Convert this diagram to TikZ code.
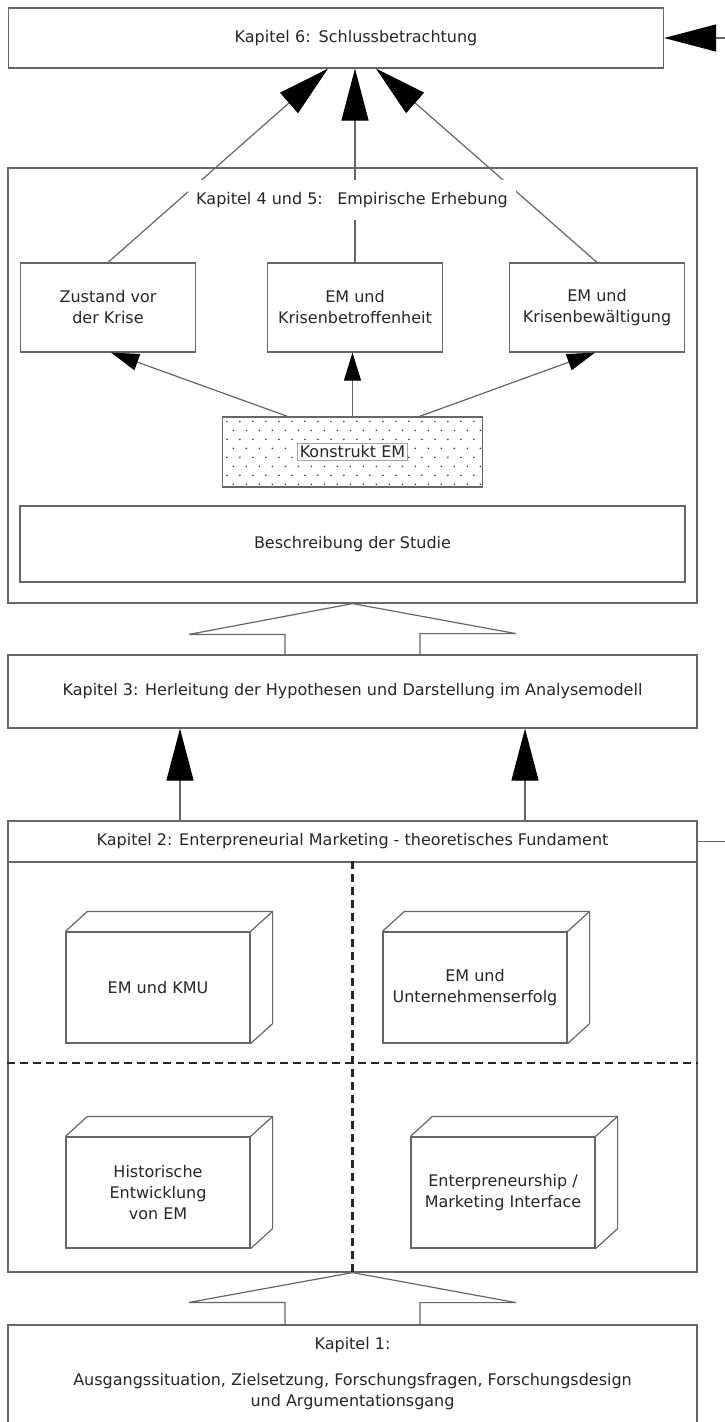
\documentclass[tikz,border=0pt]{standalone}
\usepackage{fontspec}
\setmainfont{DejaVu Sans}
\usetikzlibrary{arrows.meta, positioning}

\begin{document}
\begin{tikzpicture}[
    x = 1pt, y = -1pt,
    every node/.style = {font = \fontsize{16}{21}\selectfont, text = black!85},
    box/.style = {
      draw = black!60,
      line width = 1.2pt,
      rectangle,
      align = center,
      inner sep = 0pt,
    },
    line/.style = {draw = black!60, line width = 1.2pt},
    bigtip/.style = {line, -{Triangle[length = 52pt, width = 27pt, color = black]}},
    smalltip/.style = {line, -{Triangle[length = 28pt, width = 17pt, color = black]}},
    quarter/.style = {draw = black!85, line width = 2.4pt, dash pattern = on 8pt off 5pt},
    cube/.style = {box, minimum width = 184pt, minimum height = 111pt},
  ]
  \useasboundingbox (0,0) rectangle (725,1422);

  % Kapitel 6
  \node [box, minimum width = 655pt, minimum height = 60pt, text width = 655pt] (kap6) at (336,38) {
    \hspace*{40pt}Kapitel 6: Schlussbetrachtung};

  % Kapitel 4 und 5
  \node [box, minimum width = 689pt, minimum height = 435pt] (kap45) at (352.5,385.5) {};
  \node [box, minimum width = 175pt, minimum height = 89pt] (zustand)   at (108,307.5) {Zustand vor\\der Krise};
  \node [box, minimum width = 175pt, minimum height = 89pt] (betroffen) at (355,307.5) {EM und\\Krisenbetroffenheit};
  \node [box, minimum width = 175pt, minimum height = 89pt] (bewaelt)   at (597,307.5) {EM und\\Krisenbewältigung};

  \draw [bigtip] (zustand.north) to ([xshift = -8pt]kap6.south);
  \draw [bigtip] (betroffen.north) to (betroffen.north |- kap6.south);
  \draw [bigtip] (bewaelt.north) to ([xshift = 40pt]kap6.south);

  \node [fill = white, inner xsep = 8pt, inner ysep = 12pt] (titel45) at (352,200) {
    Kapitel 4 und 5:\hspace{0.9em}Empirische Erhebung};

  \node [box, minimum width = 260pt, minimum height = 70pt] (konstrukt) at (352.5,452) {};
  \begin{scope}
    \clip (konstrukt.north west) rectangle (konstrukt.south east);
    \foreach \j in {0,...,7} {
      \foreach \i in {0,...,20} {
        \fill [black!80] ([shift = {({5 + 13*\i + 6.5*mod(\j,2)}, {5 + 9*\j})}]konstrukt.north west) circle (0.9pt);
      }
    }
  \end{scope}
  \node [draw = black!35, fill = white, inner sep = 2pt, line width = 1pt] (konlabel) at (konstrukt) {Konstrukt EM};

  \draw [smalltip] ([xshift = -65pt]konstrukt.north) to ([xshift = 3pt]zustand.south);
  \draw [smalltip] (konstrukt.north) to (betroffen.south -| konstrukt.north);
  \draw [smalltip] ([xshift = 67pt]konstrukt.north) to ([xshift = -2pt]bewaelt.south);

  \node [box, minimum width = 665pt, minimum height = 76pt] (studie) at (352.5,544) {Beschreibung der Studie};

  % Kapitel 3
  \node [box, minimum width = 689pt, minimum height = 73pt] (kap3) at (352.5,691.5) {
    Kapitel 3: Herleitung der Hypothesen und Darstellung im Analysemodell};

  \draw [line] ([xshift = -67.5pt]kap3.north) -- ++(0,-20) -- ++(-96,0)
    -- (kap45.south) -- ++(163.5,30) -- ++(-96,0) -- ([xshift = 67.5pt]kap3.north);

  % Kapitel 2
  \node [box, minimum width = 689pt, minimum height = 41pt] (kap2) at (352.5,841.5) {
    Kapitel 2: Enterpreneurial Marketing - theoretisches Fundament};
  \node [box, minimum width = 689pt, minimum height = 410pt] (kap2rahmen) at (352.5,1067) {};

  \draw [bigtip] ([xshift = -172.5pt]kap2.north) to ([xshift = -172.5pt]kap3.south);
  \draw [bigtip] ([xshift = 172.5pt]kap2.north) to ([xshift = 172.5pt]kap3.south);

  \draw [quarter] (kap2rahmen.north) to (kap2rahmen.south);
  \draw [quarter] (kap2rahmen.west |- 0,1063) to (kap2rahmen.east |- 0,1063);

  \node [cube] (kmu)       at (158,987.5)  {EM und KMU};
  \node [cube] (erfolg)    at (475,987.5)  {EM und\\Unternehmenserfolg};
  \node [cube] (historie)  at (158,1192.5) {Historische\\Entwicklung\\von EM};
  \node [cube] (interface) at (503,1192.5) {Enterpreneurship /\\Marketing Interface};
  \foreach \b in {kmu, erfolg, historie, interface} {
    \draw [line] (\b.north west) -- ++(22,-20) -| ([shift = {(22,-20)}]\b.south east) -- (\b.south east);
    \draw [line] (\b.north east) -- ++(22,-20);
  }

  % Kapitel 1
  \node [box, minimum width = 689pt, minimum height = 115pt] (kap1) at (352.5,1382.5) {
    Kapitel 1:\\[15pt]
    Ausgangssituation, Zielsetzung, Forschungsfragen, Forschungsdesign\\
    und Argumentationsgang\\{}};

  \draw [line] ([xshift = -67.5pt]kap1.north) -- ++(0,-22) -- ++(-96,0)
    -- (kap2rahmen.south) -- ++(163.5,30) -- ++(-96,0) -- ([xshift = 67.5pt]kap1.north);

  % Rueckkopplung Kapitel 2 -> Kapitel 6
  \draw [bigtip] (kap2.east) -- ++(45,0) |- (kap6.east);
\end{tikzpicture}
\end{document}
